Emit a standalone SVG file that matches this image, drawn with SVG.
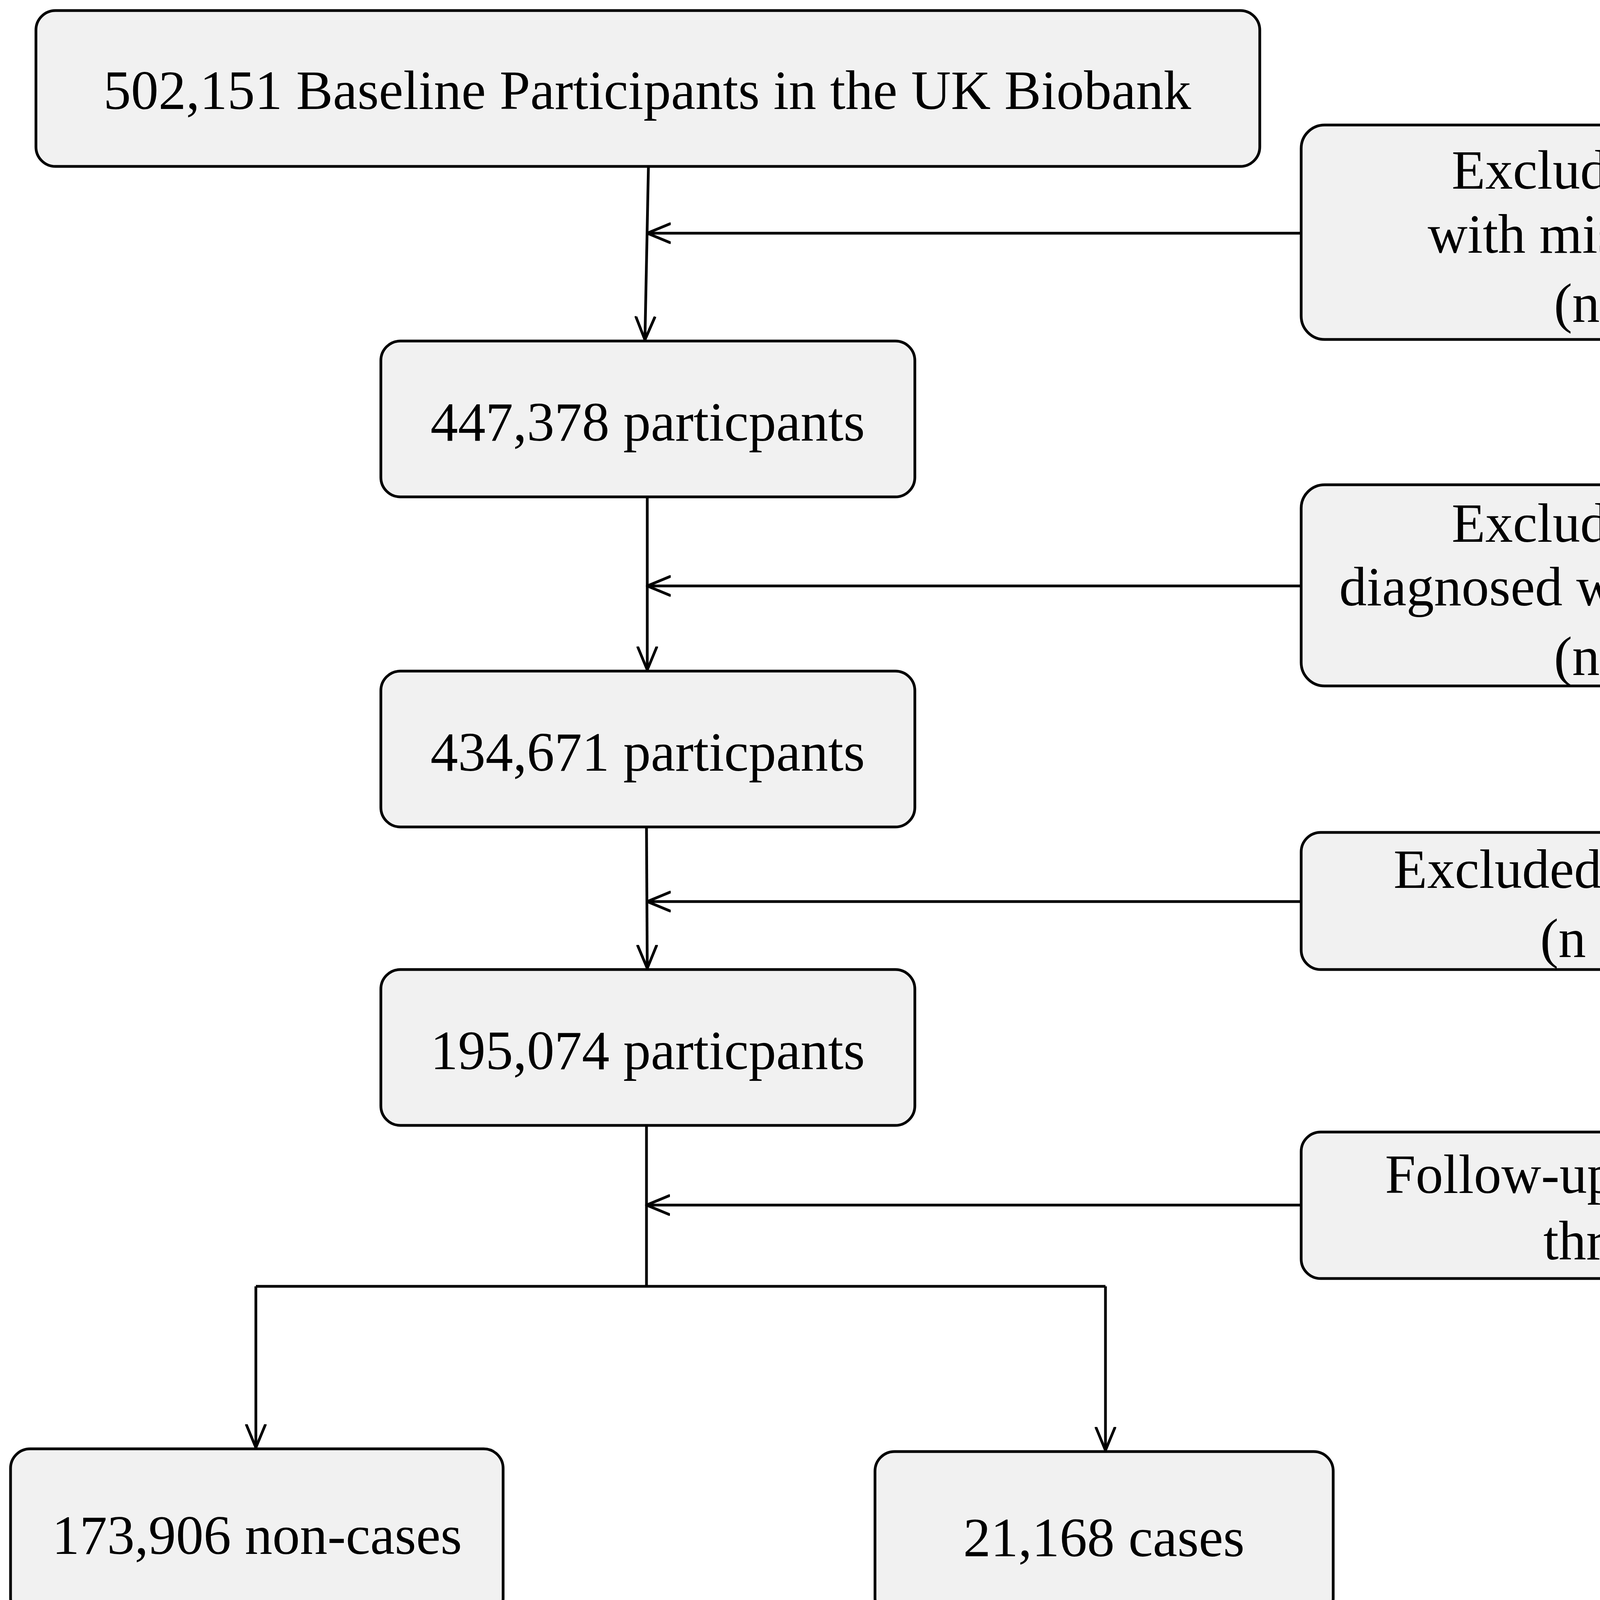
<svg xmlns="http://www.w3.org/2000/svg" width="5346" height="4163" viewBox="0 0 5346 4163">
<style>
.b{fill:#f1f1f1;stroke:#000;stroke-width:7}
.t{font-family:"Liberation Serif",serif;font-size:141px;text-anchor:middle;fill:#000}
.c{fill:none;stroke:#000;stroke-width:7}
</style>
<defs><marker id="a" markerUnits="userSpaceOnUse" markerWidth="80" markerHeight="80" refX="60" refY="30" orient="auto"><path d="M2,6 L60,30 L2,54" fill="none" stroke="#000" stroke-width="7" stroke-linecap="round" stroke-linejoin="round"/></marker></defs>
<rect width="5346" height="4163" fill="#fff"/>
<g id="n1"><rect class="b" x="92" y="27" width="3133" height="399" rx="50"/><text class="t" x="1657" y="279">502,151 Baseline Participants in the UK Biobank</text></g>
<g id="n2"><rect class="b" x="975" y="873" width="1367" height="399" rx="50"/><text class="t" x="1658" y="1128">447,378 particpants</text></g>
<g id="n3"><rect class="b" x="975" y="1718" width="1367" height="399" rx="50"/><text class="t" x="1658" y="1973">434,671 particpants</text></g>
<g id="n4"><rect class="b" x="975" y="2482" width="1367" height="399" rx="50"/><text class="t" x="1658" y="2737">195,074 particpants</text></g>
<g id="n5"><rect class="b" x="27" y="3709" width="1261" height="433" rx="50"/><text class="t" x="658" y="3978">173,906 non-cases</text></g>
<g id="n6"><rect class="b" x="2240" y="3716" width="1173" height="426" rx="50"/><text class="t" x="2826" y="3984">21,168 cases</text></g>
<g id="r1"><rect class="b" x="3331" y="320" width="1994" height="549" rx="60"/><text class="t" x="4329" y="483">Excluded participants</text><text class="t" x="4329" y="647">with missing Vitamin D</text><text class="t" x="4329" y="824">(n = 54,773)</text></g>
<g id="r2"><rect class="b" x="3331" y="1241" width="1994" height="515" rx="60"/><text class="t" x="4329" y="1387">Excluded participants</text><text class="t" x="4329" y="1550">diagnosed with BPH at baseline</text><text class="t" x="4329" y="1728">(n = 12,707)</text></g>
<g id="r3"><rect class="b" x="3331" y="2131" width="1994" height="351" rx="50"/><text class="t" x="4329" y="2273">Excluded female in dataset</text><text class="t" x="4329" y="2450">(n = 239,597)</text></g>
<g id="r4"><rect class="b" x="3331" y="2898" width="1994" height="375" rx="50"/><text class="t" x="4329" y="3054">Follow-up from 2006–2010</text><text class="t" x="4329" y="3224">through 2022</text></g>
<g id="connectors">
<line class="c" x1="1660" y1="426" x2="1651" y2="870" marker-end="url(#a)"/>
<line class="c" x1="3331" y1="597" x2="1657" y2="597" marker-end="url(#a)"/>
<line class="c" x1="1657" y1="1272" x2="1657" y2="1715" marker-end="url(#a)"/>
<line class="c" x1="3331" y1="1500" x2="1657" y2="1500" marker-end="url(#a)"/>
<line class="c" x1="1655" y1="2117" x2="1657" y2="2479" marker-end="url(#a)"/>
<line class="c" x1="3331" y1="2308" x2="1657" y2="2308" marker-end="url(#a)"/>
<line class="c" x1="3331" y1="3085" x2="1655" y2="3085" marker-end="url(#a)"/>
<path class="c" d="M1655,2881 V3293 M655,3293 H2830"/>
<line class="c" x1="655" y1="3293" x2="655" y2="3706" marker-end="url(#a)"/>
<line class="c" x1="2830" y1="3293" x2="2830" y2="3713" marker-end="url(#a)"/>
</g>
</svg>
